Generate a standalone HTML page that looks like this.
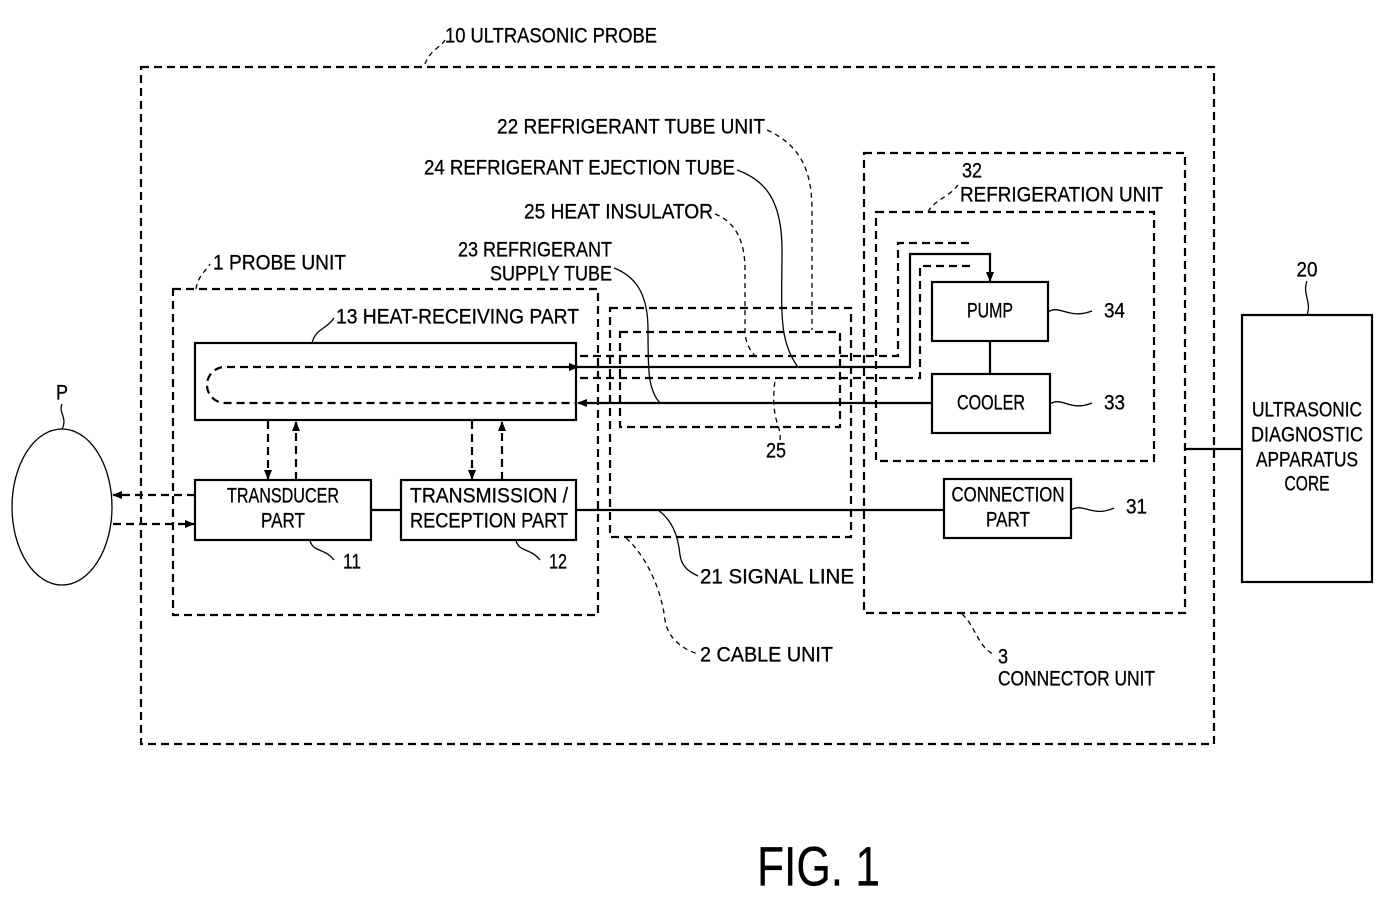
<!DOCTYPE html>
<html><head><meta charset="utf-8"><style>
html,body{margin:0;padding:0;background:#fff;}
svg{display:block;}
text{font-family:"Liberation Sans",sans-serif;font-size:21px;fill:#000;stroke:#000;stroke-width:0.3;dominant-baseline:central;}
.d{fill:none;stroke:#000;stroke-width:2.2;stroke-dasharray:8,5;}
.s{fill:none;stroke:#000;stroke-width:2.2;}
.t{fill:none;stroke:#000;stroke-width:1.3;}
.td{fill:none;stroke:#000;stroke-width:1.3;stroke-dasharray:5,4;}
</style></head><body>
<svg width="1382" height="898" viewBox="0 0 1382 898" xmlns="http://www.w3.org/2000/svg">
<defs>
<marker id="a" markerWidth="10" markerHeight="10" refX="9" refY="5" orient="auto" markerUnits="userSpaceOnUse">
<path d="M0,1 L10,5 L0,9 z" fill="#000"/></marker>
</defs>
<rect x="141" y="67" width="1073" height="677" class="d"/>
<text x="445" y="36" textLength="212" lengthAdjust="spacingAndGlyphs">10 ULTRASONIC PROBE</text>
<path d="M425,64 C430,50 440,48 445,40" class="td"/>
<rect x="173" y="289" width="425" height="326" class="d"/>
<text x="213" y="263" textLength="133" lengthAdjust="spacingAndGlyphs">1 PROBE UNIT</text>
<path d="M196,289 C198,276 205,272 210,264" class="td"/>
<rect x="195" y="343" width="381" height="77" class="s"/>
<path d="M560,367 L225,367 A18,18 0 0 0 225,403 L576,403" class="d" stroke-width="1.8"/>
<text x="336" y="317" textLength="243" lengthAdjust="spacingAndGlyphs">13 HEAT-RECEIVING PART</text>
<path d="M312,343 C316,328 326,330 334,318" class="t"/>
<rect x="195" y="480" width="176" height="60" class="s"/>
<text x="283" y="496" text-anchor="middle" textLength="112" lengthAdjust="spacingAndGlyphs">TRANSDUCER</text>
<text x="283" y="521" text-anchor="middle" textLength="44" lengthAdjust="spacingAndGlyphs">PART</text>
<rect x="401" y="480" width="175" height="60" class="s"/>
<text x="489" y="496" text-anchor="middle" textLength="158" lengthAdjust="spacingAndGlyphs">TRANSMISSION /</text>
<text x="489" y="521" text-anchor="middle" textLength="158" lengthAdjust="spacingAndGlyphs">RECEPTION PART</text>
<line x1="371" y1="510" x2="401" y2="510" class="s"/>
<text x="343" y="562" textLength="18" lengthAdjust="spacingAndGlyphs">11</text>
<path d="M310,540 C312,552 325,548 334,560" class="t"/>
<text x="549" y="562" textLength="18" lengthAdjust="spacingAndGlyphs">12</text>
<path d="M516,540 C518,552 531,548 540,560" class="t"/>
<line x1="268" y1="421" x2="268" y2="479" class="d" stroke-dasharray="6,4" marker-end="url(#a)"/>
<line x1="296" y1="480" x2="296" y2="422" class="d" stroke-dasharray="6,4" marker-end="url(#a)"/>
<line x1="472" y1="421" x2="472" y2="479" class="d" stroke-dasharray="6,4" marker-end="url(#a)"/>
<line x1="502" y1="480" x2="502" y2="422" class="d" stroke-dasharray="6,4" marker-end="url(#a)"/>
<ellipse cx="62" cy="507" rx="50" ry="78" class="t" stroke-width="1.6"/>
<text x="62" y="393" text-anchor="middle" textLength="12" lengthAdjust="spacingAndGlyphs">P</text>
<path d="M62,404 C58,412 68,418 62,429" class="t"/>
<line x1="195" y1="495" x2="113" y2="495" class="d" stroke-dasharray="6,4" marker-end="url(#a)"/>
<line x1="113" y1="524" x2="194" y2="524" class="d" stroke-dasharray="6,4" marker-end="url(#a)"/>
<rect x="610" y="308" width="241" height="229" class="d"/>
<rect x="620" y="332" width="220" height="95" class="d" stroke-width="1.8"/>
<text x="776" y="451" text-anchor="middle" textLength="20" lengthAdjust="spacingAndGlyphs">25</text>
<path d="M780,440 C782,425 770,422 775,380" class="td"/>
<path d="M580,356 L898,356 L898,243 L972,243" class="d" stroke-width="1.8"/>
<path d="M580,378 L920,378 L920,266 L972,266" class="d" stroke-width="1.8"/>
<path d="M576,367 L910,367 L910,254 L990,254 L990,281" class="s" marker-end="url(#a)"/>
<line x1="560" y1="367" x2="578" y2="367" class="s" marker-end="url(#a)"/>
<line x1="932" y1="403" x2="578" y2="403" class="s" marker-end="url(#a)"/>
<line x1="576" y1="510" x2="944" y2="510" class="s"/>
<rect x="864" y="153" width="321" height="460" class="d"/>
<rect x="876" y="212" width="278" height="249" class="d"/>
<rect x="932" y="282" width="116" height="59" class="s"/>
<text x="990" y="311" text-anchor="middle" textLength="46" lengthAdjust="spacingAndGlyphs">PUMP</text>
<rect x="932" y="374" width="118" height="59" class="s"/>
<text x="991" y="403" text-anchor="middle" textLength="68" lengthAdjust="spacingAndGlyphs">COOLER</text>
<line x1="990" y1="341" x2="990" y2="374" class="s"/>
<rect x="944" y="479" width="127" height="59" class="s"/>
<text x="1008" y="495" text-anchor="middle" textLength="113" lengthAdjust="spacingAndGlyphs">CONNECTION</text>
<text x="1008" y="520" text-anchor="middle" textLength="44" lengthAdjust="spacingAndGlyphs">PART</text>
<text x="1104" y="311" textLength="21" lengthAdjust="spacingAndGlyphs">34</text>
<path d="M1048,312 C1060,304 1068,320 1092,311" class="t"/>
<text x="1104" y="403" textLength="21" lengthAdjust="spacingAndGlyphs">33</text>
<path d="M1050,404 C1062,396 1070,412 1092,403" class="t"/>
<text x="1126" y="507" textLength="21" lengthAdjust="spacingAndGlyphs">31</text>
<path d="M1071,510 C1083,502 1092,518 1114,508" class="t"/>
<text x="962" y="171" textLength="20" lengthAdjust="spacingAndGlyphs">32</text>
<text x="960" y="195" textLength="203" lengthAdjust="spacingAndGlyphs">REFRIGERATION UNIT</text>
<path d="M928,212 C934,200 948,198 958,185" class="td"/>
<text x="998" y="657" textLength="10" lengthAdjust="spacingAndGlyphs">3</text>
<text x="998" y="679" textLength="157" lengthAdjust="spacingAndGlyphs">CONNECTOR UNIT</text>
<path d="M962,614 C975,625 978,648 995,655" class="td"/>
<rect x="1242" y="315" width="130" height="267" class="s"/>
<line x1="1185" y1="449" x2="1242" y2="449" class="s"/>
<text x="1307" y="270" text-anchor="middle" textLength="21" lengthAdjust="spacingAndGlyphs">20</text>
<path d="M1307,281 C1302,294 1312,302 1307,315" class="t"/>
<text x="1307" y="410" text-anchor="middle" textLength="110" lengthAdjust="spacingAndGlyphs">ULTRASONIC</text>
<text x="1307" y="435" text-anchor="middle" textLength="112" lengthAdjust="spacingAndGlyphs">DIAGNOSTIC</text>
<text x="1307" y="460" text-anchor="middle" textLength="102" lengthAdjust="spacingAndGlyphs">APPARATUS</text>
<text x="1307" y="484" text-anchor="middle" textLength="45" lengthAdjust="spacingAndGlyphs">CORE</text>
<text x="497" y="127" textLength="268" lengthAdjust="spacingAndGlyphs">22 REFRIGERANT TUBE UNIT</text>
<path d="M767,130 C800,145 812,170 812,210 L812,330" class="td"/>
<text x="424" y="168" textLength="311" lengthAdjust="spacingAndGlyphs">24 REFRIGERANT EJECTION TUBE</text>
<path d="M737,170 C765,180 782,200 782,250 C782,310 778,340 798,367" class="t"/>
<text x="524" y="212" textLength="189" lengthAdjust="spacingAndGlyphs">25 HEAT INSULATOR</text>
<path d="M715,214 C735,222 745,240 745,270 L745,330 C745,345 752,352 755,356" class="td"/>
<text x="458" y="250" textLength="154" lengthAdjust="spacingAndGlyphs">23 REFRIGERANT</text>
<text x="490" y="274" textLength="122" lengthAdjust="spacingAndGlyphs">SUPPLY TUBE</text>
<path d="M614,268 C640,278 648,300 648,330 C648,370 648,390 660,403" class="t"/>
<text x="700" y="577" textLength="154" lengthAdjust="spacingAndGlyphs">21 SIGNAL LINE</text>
<path d="M658,510 C672,520 678,535 680,555 C682,568 690,572 698,576" class="t"/>
<text x="700" y="655" textLength="133" lengthAdjust="spacingAndGlyphs">2 CABLE UNIT</text>
<path d="M626,538 C640,550 660,580 665,620 C668,640 685,650 698,654" class="td"/>
<text x="757" y="866" textLength="123" lengthAdjust="spacingAndGlyphs" style="font-size:56px">FIG. 1</text>
</svg>
</body></html>
